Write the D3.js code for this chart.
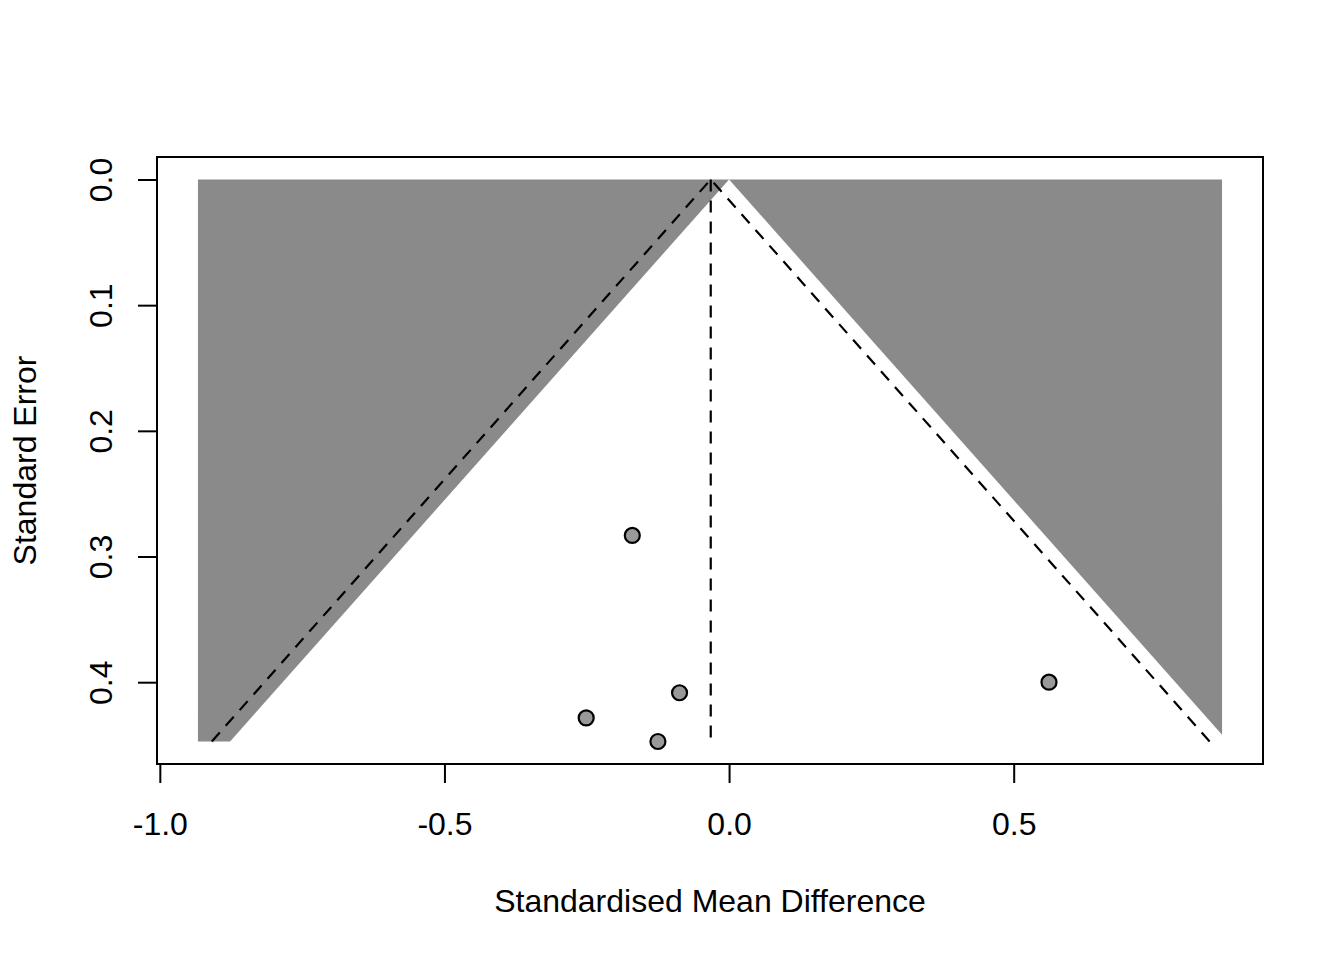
<!DOCTYPE html>
<html>
<head>
<meta charset="utf-8">
<script src="https://cdn.jsdelivr.net/npm/d3@7"></script>
<style>
  html, body { margin: 0; padding: 0; background: #fff; }
  svg { display: block; font-family: "Liberation Sans", Arial, Helvetica, sans-serif; }
</style>
</head>
<body>
<svg id="chart" width="1344" height="960"></svg>
<script>
// ---- data ----
const studyTE = [-0.170, -0.087, -0.251, -0.125, 0.562];   // standardised mean difference
const studySE = [0.2832, 0.4084, 0.4284, 0.4472, 0.4000];  // standard error
const fixedEffect = -0.0322;
const xTicks = [-1.0, -0.5, 0.0, 0.5];
const yTicks = [0.0, 0.1, 0.2, 0.3, 0.4];
const xDataLim = [-0.933, 0.866];
const zCrit = 1.96;
const xLabel = "Standardised Mean Difference";
const yLabel = "Standard Error";

// ---- layout ----
const svg = d3.select("#chart");
const L = 157, R = 1263, T = 157, B = 764;
const seMax = d3.max(studySE);
const xPad = (xDataLim[1] - xDataLim[0]) * 0.04;
const yPad = seMax * 0.04;

const x = d3.scaleLinear().domain([xDataLim[0] - xPad, xDataLim[1] + xPad]).range([L, R]);
const y = d3.scaleLinear().domain([-yPad, seMax + yPad]).range([T, B]);

const grey = "#8a8a8a";
const line = d3.line().x(d => x(d[0])).y(d => y(d[1]));

// contour regions (p < 0.05)
const leftPoly = [[xDataLim[0], 0], [0, 0], [-zCrit * seMax, seMax], [xDataLim[0], seMax]];
const rightPoly = [[0, 0], [xDataLim[1], 0], [xDataLim[1], xDataLim[1] / zCrit]];
svg.append("path").attr("d", line(leftPoly) + "Z").attr("fill", grey);
svg.append("path").attr("d", line(rightPoly) + "Z").attr("fill", grey);

// funnel (dashed) lines around fixed effect
const dash = "12,9";
svg.append("path")
  .attr("d", line([[fixedEffect - zCrit * seMax, seMax], [fixedEffect, 0], [fixedEffect + zCrit * seMax, seMax]]))
  .attr("fill", "none").attr("stroke", "#000").attr("stroke-width", 2.2).attr("stroke-dasharray", dash);
svg.append("path")
  .attr("d", line([[fixedEffect, 0], [fixedEffect, seMax]]))
  .attr("fill", "none").attr("stroke", "#000").attr("stroke-width", 2.2).attr("stroke-dasharray", dash);

// points
svg.selectAll("circle.pt").data(studyTE.map((d, i) => [d, studySE[i]])).enter()
  .append("circle").attr("class", "pt")
  .attr("cx", d => x(d[0])).attr("cy", d => y(d[1])).attr("r", 7.5)
  .attr("fill", "#999999").attr("stroke", "#000").attr("stroke-width", 2.2);

// box
svg.append("rect").attr("x", L).attr("y", T).attr("width", R - L).attr("height", B - T)
  .attr("fill", "none").attr("stroke", "#000").attr("stroke-width", 2);

// x axis
const gx = svg.append("g").attr("transform", `translate(0,${B})`)
  .call(d3.axisBottom(x).tickValues(xTicks).tickFormat(d => d.toFixed(1)).tickSize(19).tickSizeOuter(0));
gx.select(".domain").remove();
gx.selectAll(".tick line").attr("stroke-width", 2);
gx.selectAll(".tick text").attr("font-size", 32).attr("y", 48).attr("dy", "0.71em")
  .attr("font-family", "Liberation Sans, Arial, sans-serif").attr("fill", "#000");

// y axis
const gy = svg.append("g").attr("transform", `translate(${L},0)`)
  .call(d3.axisLeft(y).tickValues(yTicks).tickFormat(d => d.toFixed(1)).tickSize(19).tickSizeOuter(0));
gy.select(".domain").remove();
gy.selectAll(".tick line").attr("stroke-width", 2);
gy.selectAll(".tick text").attr("font-size", 32).attr("x", null).attr("dy", null)
  .attr("text-anchor", "middle").attr("transform", "translate(-45,0) rotate(-90)")
  .attr("font-family", "Liberation Sans, Arial, sans-serif").attr("fill", "#000");

// axis titles
svg.append("text").attr("x", (L + R) / 2).attr("y", 912).attr("text-anchor", "middle")
  .attr("font-size", 32).attr("fill", "#000").text(xLabel);
svg.append("text").attr("transform", `translate(36,${(T + B) / 2}) rotate(-90)`).attr("text-anchor", "middle")
  .attr("font-size", 32).attr("fill", "#000").text(yLabel);
</script>
</body>
</html>
